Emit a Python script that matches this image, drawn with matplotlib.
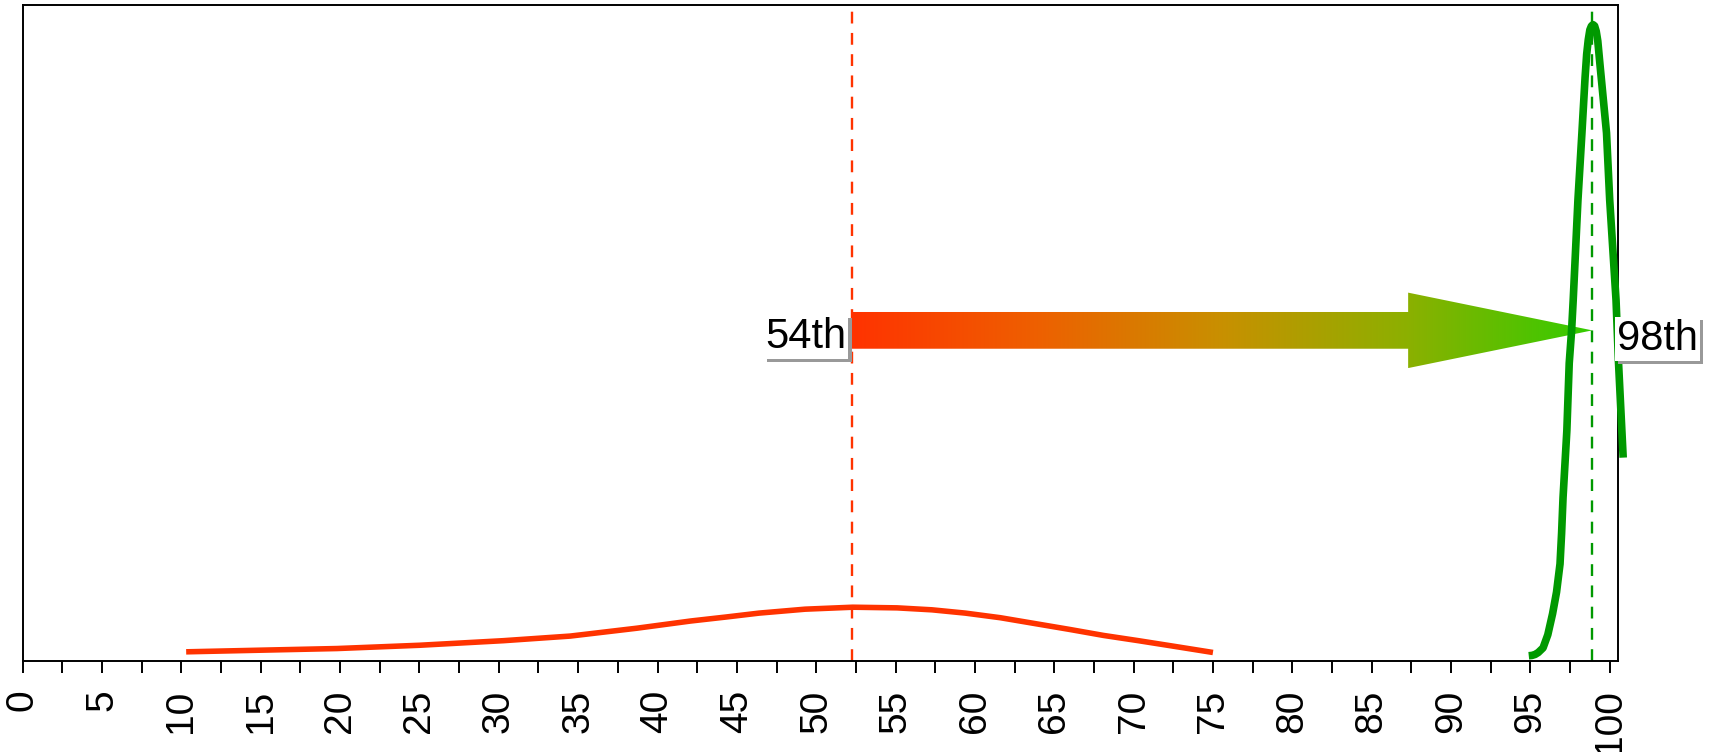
import numpy as np
import matplotlib
matplotlib.use("Agg")
import matplotlib.pyplot as plt
import matplotlib.patheffects as pe
from matplotlib.patches import Polygon
from matplotlib.colors import LinearSegmentedColormap

plt.rcParams['font.family'] = ['Liberation Sans', 'DejaVu Sans']

# density curves (y scaled so the top of the axes is 1)
before_x = [10.3, 15.0, 19.8, 25.0, 30.3, 34.5, 38.7, 42.1, 44.3, 46.4,
            49.3, 52.3, 55.1, 57.3, 59.4, 61.6, 63.8, 66.0, 68.1, 70.3,
            72.4, 75.0]
before_y = [0.014, 0.0165, 0.019, 0.024, 0.031, 0.038, 0.050, 0.061, 0.067,
            0.073, 0.079, 0.082, 0.081, 0.078, 0.073, 0.066, 0.057, 0.048,
            0.039, 0.031, 0.023, 0.013]

after_x = [94.9, 95.1, 95.3, 95.5, 95.8, 96.1, 96.4, 96.65, 96.87, 96.97,
           97.06, 97.3, 97.45, 97.6, 97.7, 98.0, 98.25, 98.45, 98.55, 98.65,
           98.75, 98.85, 98.95, 99.05, 99.15, 99.25, 99.4, 99.8, 100.0,
           100.4, 100.55, 100.85]
after_y = [0.008, 0.0085, 0.010, 0.013, 0.020, 0.040, 0.072, 0.105, 0.148,
           0.195, 0.249, 0.351, 0.454, 0.504, 0.550, 0.703, 0.805, 0.890,
           0.925, 0.947, 0.962, 0.968, 0.970, 0.968, 0.960, 0.945, 0.906,
           0.805, 0.703, 0.550, 0.458, 0.310]

before_mark = 52.25
after_mark = 98.9
before_label = "54th"
after_label = "98th"

major_ticks = np.arange(0, 101, 5)
minor_ticks = np.arange(2.5, 100, 5)
tick_labels = [str(v) for v in major_ticks]

red = "#FF3300"
green = "#009900"
arrow_colors = ["#FF3300", "#EE6000", "#C89000", "#8CB000", "#33CC00"]

fig = plt.figure(figsize=(17.11, 7.52), dpi=100)
ax = fig.add_axes([0.01327, 0.121, 0.93253, 0.8724])

ax.axvline(before_mark, color=red, ls=(0, (5, 4)), lw=1.7, zorder=1)
ax.axvline(after_mark, color=green, ls=(0, (5, 4)), lw=1.7, zorder=1)

# gradient arrow, clipped from an image
y0 = 0.504
shaft = 0.028
head = 0.0575
head_len = 11.6
verts = [(before_mark, y0 - shaft), (after_mark - head_len, y0 - shaft),
         (after_mark - head_len, y0 - head), (after_mark, y0),
         (after_mark - head_len, y0 + head), (after_mark - head_len, y0 + shaft),
         (before_mark, y0 + shaft)]
poly = Polygon(verts, closed=True, fc="none", ec="none")
ax.add_patch(poly)
cmap = LinearSegmentedColormap.from_list("arr", arrow_colors)
grad = np.linspace(0, 1, 256).reshape(1, -1)
im = ax.imshow(grad, cmap=cmap, aspect="auto", interpolation="bilinear",
               extent=[before_mark, after_mark, y0 - head, y0 + head], zorder=2)
im.set_clip_path(poly)

ax.plot(before_x, before_y, color=red, lw=4, zorder=3, solid_capstyle="butt",
        solid_joinstyle="round")
ax.plot(after_x, after_y, color=green, lw=5.5, zorder=3, clip_on=False,
        solid_capstyle="butt", solid_joinstyle="round")

shadow = [pe.withSimplePatchShadow(offset=(2.5, -2.5), shadow_rgbFace="#999999", alpha=1.0)]
t1 = ax.text(before_mark - 0.35, 0.494, before_label, ha="right", va="center",
             fontsize=30, zorder=5,
             bbox=dict(boxstyle="square,pad=0.05", fc="white", ec="none"))
t1.get_bbox_patch().set_path_effects(shadow)
t2 = ax.text(after_mark + 1.55, 0.491, after_label, ha="left", va="center",
             fontsize=30, zorder=5, clip_on=False,
             bbox=dict(boxstyle="square,pad=0.05", fc="white", ec="none"))
t2.get_bbox_patch().set_path_effects(shadow)

ax.set_xlim(0, 100.54)
ax.set_ylim(0, 1)
ax.set_yticks([])
ax.set_xticks(major_ticks)
ax.set_xticklabels(tick_labels, rotation=90, fontsize=28)
ax.set_xticks(minor_ticks, minor=True)
ax.tick_params(axis="x", which="both", length=8.6, width=1.4, pad=12)
for s in ax.spines.values():
    s.set_linewidth(1.4)

fig.savefig("out.png", dpi=100)
